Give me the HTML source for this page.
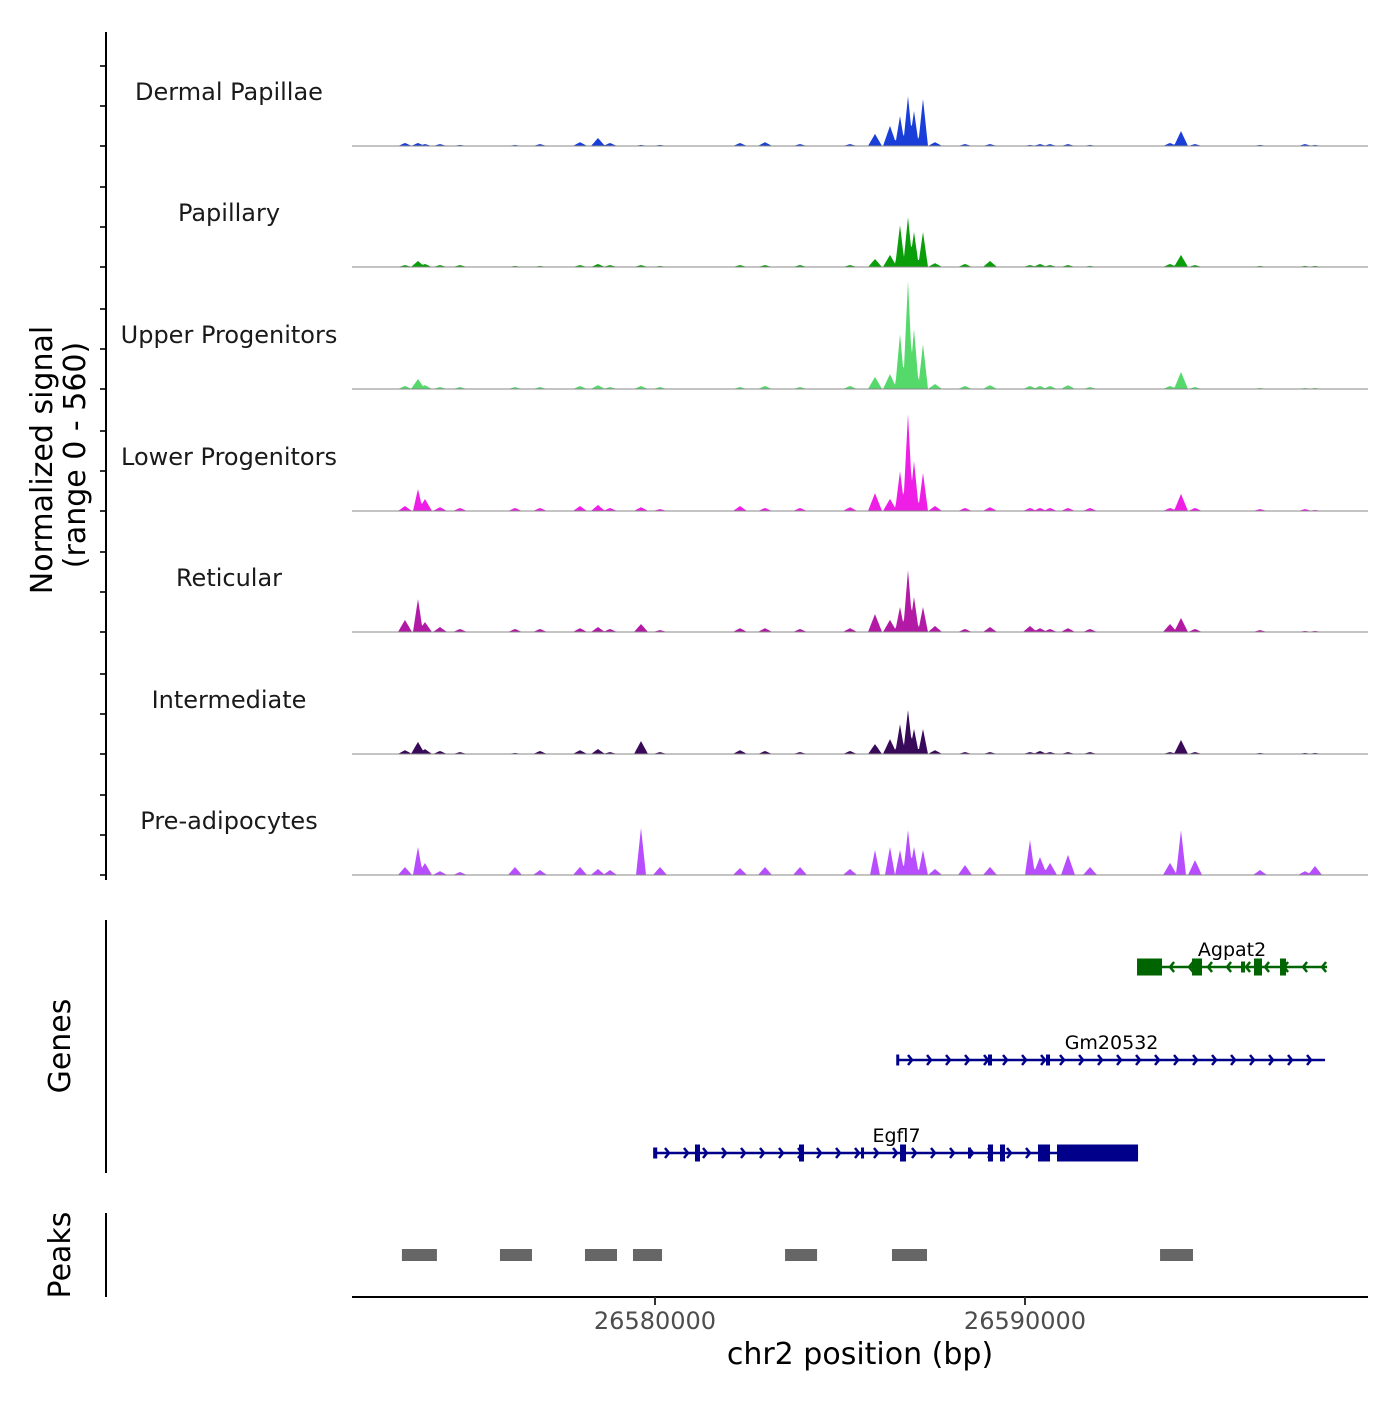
<!DOCTYPE html>
<html><head><meta charset="utf-8"><style>
html,body{margin:0;padding:0;background:#fff}
svg text{font-family:"DejaVu Sans","Liberation Sans",sans-serif}
</style></head><body>
<svg id="chart" width="1400" height="1400" xmlns="http://www.w3.org/2000/svg">
<g id="tracks"></g>
<g id="axes"></g>
<g id="genes"></g>
<g id="peaks"></g>
</svg>
<script>
const trackNames=["Dermal Papillae","Papillary","Upper Progenitors","Lower Progenitors","Reticular","Intermediate","Pre-adipocytes"];
const trackColors=["#1a3fd9","#0a9e0a","#55d96b","#ee1ee6","#b21aa6","#3a0a5a","#b84dff"];
const peakPos=[26573243,26573594,26573783,26574189,26574730,26576216,26576892,26577973,26578459,26578784,26579622,26580135,26582297,26582973,26583919,26585270,26585946,26586351,26586622,26586838,26587000,26587243,26587568,26588378,26589054,26590135,26590405,26590676,26591162,26591757,26593919,26594216,26594595,26596351,26597568,26597838];
const sigDP=[14,14,9,9,5,5,9,18,37,14,5,5,14,18,9,9,56,93,139,231,162,218,18,9,9,5,9,9,9,5,14,69,9,5,9,5];
const sigPap=[9,28,14,9,9,5,5,9,14,9,9,5,9,9,9,9,37,56,194,231,162,162,18,14,28,9,14,9,9,5,14,56,9,5,5,5];
const sigUpper=[14,46,18,9,9,9,9,14,18,9,14,9,9,14,9,14,56,69,255,500,278,208,23,14,18,14,14,14,18,9,14,79,9,5,5,5];
const sigLower=[23,102,56,18,14,14,14,23,28,14,18,9,23,14,14,18,83,56,185,449,231,176,23,14,18,14,14,14,14,14,14,79,14,9,9,5];
const sigRet=[56,153,46,23,14,14,14,18,23,14,37,9,18,18,14,18,83,56,116,287,162,116,28,14,23,28,18,14,18,14,37,65,14,9,5,5];
const sigInt=[18,56,23,14,9,5,14,18,23,9,60,9,18,14,9,14,46,69,139,204,116,116,18,9,9,9,14,9,9,9,9,65,9,5,5,5];
const sigPre=[37,130,56,18,14,37,23,37,28,23,218,37,32,37,37,28,116,130,116,208,130,116,28,46,37,162,83,56,93,37,56,208,69,23,18,42];
const signals=[sigDP,sigPap,sigUpper,sigLower,sigRet,sigInt,sigPre];
const xTicks=[26580000,26590000];
const peakRegions=[[26573160,26574106],[26575810,26576675],[26578108,26578973],[26579405,26580190],[26583515,26584380],[26586405,26587351],[26593650,26594540]];
const geneNames=["Agpat2","Gm20532","Egfl7"];
const geneStrand=[-1,1,1];
const geneSpan=[[26593028,26598164],[26586568,26598110],[26580000,26593055]];
const geneExons=[
 [[26593028,26593703],[26594514,26594784],[26595838,26595946],[26596189,26596405],[26596892,26597054]],
 [[26586520,26586600],[26589000,26589108],[26590568,26590676]],
 [[26579950,26580060],[26581081,26581216],[26583892,26584027],[26585568,26585622],[26586622,26586784],[26588460,26588514],[26589000,26589135],[26589324,26589460],[26590351,26590676],[26590865,26593055]]];
const geneThick=[[1,1,0,1,1],[0,0,0],[0,1,1,0,1,0,1,1,1,1]];
const geneColors=["#006400","#00008b","#00008b"];

const NS="http://www.w3.org/2000/svg";
const X0=352,X1=1368,BP0=26571811,BP1=26599270;
const xs=bp=>X0+(bp-BP0)/(BP1-BP0)*(X1-X0);
const baselines=[146,267,389,511,632,754,875];
const TH=121, YMAX=560;
const ys=(v,b)=>b-v/YMAX*TH;
function mk(tag,attrs,parent){const e=document.createElementNS(NS,tag);for(const k in attrs)e.setAttribute(k,attrs[k]);parent.appendChild(e);return e;}
const tracks=document.getElementById('tracks');
signals.forEach((sig,t)=>{
  const b=baselines[t];
  const g=mk('g',{},tracks);
  
  
  let d='M'+X0+','+b;
  for(let x=X0;x<=X1;x++){
    let v=0;
    peakPos.forEach((p,i)=>{const px=xs(p);const w=sig[i]>100?5:7;const f=1-Math.abs(x-px)/w;if(f>0)v=Math.max(v,sig[i]*f);});
    d+=' L'+x+','+ys(v,b).toFixed(1);
  }
  d+=' L'+X1+','+b+' Z';
  const a=mk('path',{d:d,fill:trackColors[t]},g);
  
  
  const l=mk('line',{x1:X0,x2:X1,y1:b,y2:b,stroke:'#888','stroke-width':1},g);
  
  
  const tx=mk('text',{x:229,y:b-46,'text-anchor':'middle','font-size':24,fill:'#1a1a1a'},g);
  tx.textContent=trackNames[t];
  
  
  [0,40,80].forEach(o=>{const tk=mk('line',{x1:100,x2:106,y1:b-o,y2:b-o,stroke:'#333','stroke-width':2},g);
    
    });
});
const axes=document.getElementById('axes');
[[32,880],[920,1173],[1213,1297]].forEach(r=>{const l=mk('line',{x1:106,x2:106,y1:r[0],y2:r[1],stroke:'#000','stroke-width':2},axes);
  
  });
const xl=mk('line',{x1:X0,x2:X1,y1:1297,y2:1297,stroke:'#000','stroke-width':2},axes);


xTicks.forEach(v=>{
  const tk=mk('line',{x1:xs(v),x2:xs(v),y1:1297,y2:1305,stroke:'#333','stroke-width':2},axes);
  
  
  const t=mk('text',{x:xs(v),y:1329,'text-anchor':'middle','font-size':24,fill:'#4d4d4d'},axes);
  t.textContent=String(v);
  
  
});
function txt(s,x,y,size,rot,name){const t=mk('text',{x:x,y:y,'text-anchor':'middle','font-size':size,fill:'#000'},axes);
  if(rot)t.setAttribute('transform','rotate(-90 '+x+' '+y+')');t.textContent=s;
  
  }
txt('chr2 position (bp)',860,1364,30,false,'x-axis-title');
txt('Normalized signal',52,460,30,true,'y-axis-title');
txt('(range 0 - 560)',85,455,30,true,'y-axis-subtitle');
txt('Genes',70,1046,30,true,'genes-label');
txt('Peaks',70,1255,30,true,'peaks-label');

const genes=document.getElementById('genes');
const geneY=[967,1060,1153];
geneNames.forEach((n,i)=>{
  const g=mk('g',{},genes);
  
  
  const y=geneY[i],c=geneColors[i];
  const xa=xs(geneSpan[i][0]),xb=xs(geneSpan[i][1]);
  mk('line',{x1:xa,x2:xb,y1:y,y2:y,stroke:c,'stroke-width':2.5},g);
  for(let x=xa+14;x<xb-4;x+=19){
    const s=geneStrand[i];
    mk('polyline',{points:(x-4*s)+','+(y-5)+' '+x+','+y+' '+(x-4*s)+','+(y+5),fill:'none',stroke:c,'stroke-width':2.5},g);
  }
  geneExons[i].forEach((e,j)=>{
    const h=geneThick[i][j]?17:11;
    const a=xs(e[0]),b=xs(e[1]);
    const r=mk('rect',{x:a,y:y-h/2,width:Math.max(3,b-a),height:h,fill:c},g);
    
    
  });
  const t=mk('text',{x:(xa+xb)/2,y:y-11,'text-anchor':'middle','font-size':19,fill:'#000'},g);
  t.textContent=n;
  
  
});
const pk=document.getElementById('peaks');
peakRegions.forEach(r=>{
  const e=mk('rect',{x:xs(r[0]),y:1249,width:xs(r[1])-xs(r[0]),height:12,fill:'#666'},pk);
  
  
});
</script>
</body></html>
